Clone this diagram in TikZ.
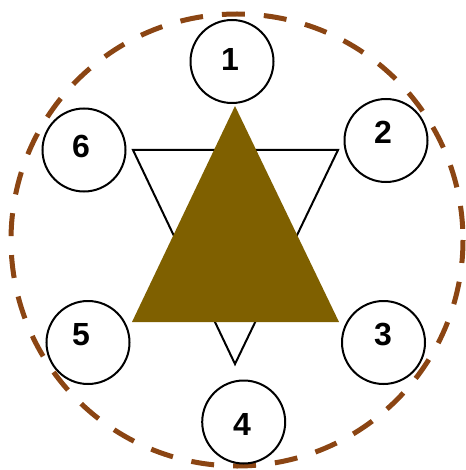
\documentclass[tikz,border=0pt]{standalone}
\usepackage{fontspec}
\setmainfont{Liberation Sans}
\definecolor{ringbrown}{HTML}{8B4513}
\definecolor{trifill}{HTML}{7F6000}
\tikzset{
  numcirc/.style={circle, draw=black, line width=2pt, fill=white, minimum size=83pt, inner sep=0pt},
  numlbl/.style={font=\fontsize{32}{33}\selectfont\bfseries, inner sep=0pt},
}
\begin{document}
\begin{tikzpicture}[x=1pt,y=-1pt]
\useasboundingbox (0,0) rectangle (465,470);
\draw[ringbrown, line width=5pt, dash pattern=on 23pt off 19pt] (237,240) circle (226);
\coordinate (a1) at (133,150);
\coordinate (a2) at (338,150);
\coordinate (a3) at (235,364);
\draw[line width=2pt, fill=white, line join=miter] (a1) -- (a2) -- (a3) -- cycle;
\coordinate (b1) at (235,106);
\coordinate (b2) at (339,322);
\coordinate (b3) at (132,322);
\fill[trifill] (b1) -- (b2) -- (b3) -- cycle;
\node[numcirc] (n1) at (232,61.5) {};
\node[numcirc] (n2) at (386,140.5) {};
\node[numcirc] (n3) at (383.5,342.5) {};
\node[numcirc] (n4) at (243.7,422) {};
\node[numcirc] (n5) at (88,342.5) {};
\node[numcirc] (n6) at (84,150) {};
\node[numlbl] (t1) at (230,59) {1};
\node[numlbl] (t2) at (383,132) {2};
\node[numlbl] (t3) at (383,335) {3};
\node[numlbl] (t4) at (242,424) {4};
\node[numlbl] (t5) at (81,335) {5};
\node[numlbl] (t6) at (81,146) {6};
\end{tikzpicture}
\end{document}
